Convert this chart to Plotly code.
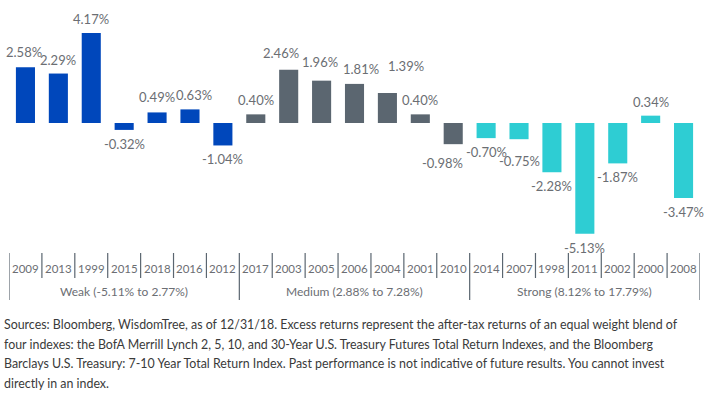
import plotly.graph_objects as go

years = ["2009", "2013", "1999", "2015", "2018", "2016", "2012",
         "2017", "2003", "2005", "2006", "2004", "2001", "2010",
         "2014", "2007", "1998", "2011", "2002", "2000", "2008"]
values = [2.58, 2.29, 4.17, -0.32, 0.49, 0.63, -1.04,
          0.40, 2.46, 1.96, 1.81, 1.39, 0.40, -0.98,
          -0.70, -0.75, -2.28, -5.13, -1.87, 0.34, -3.47]
groups = ["Weak"] * 7 + ["Medium"] * 7 + ["Strong"] * 7
group_labels = ["Weak (-5.11% to 2.77%)", "Medium (2.88% to 7.28%)", "Strong (8.12% to 17.79%)"]
group_names = ["Weak", "Medium", "Strong"]
footnote_lines = [
    "Sources: Bloomberg, WisdomTree, as of 12/31/18. Excess returns represent the after-tax returns of an equal weight blend of",
    "four indexes: the BofA Merrill Lynch 2, 5, 10, and 30-Year U.S. Treasury Futures Total Return Indexes, and the Bloomberg",
    "Barclays U.S. Treasury: 7-10 Year Total Return Index. Past performance is not indicative of future results. You cannot invest",
    "directly in an index.",
]

# styles
colors = {"Weak": "#0047BB", "Medium": "#5B6670", "Strong": "#2ECDD3"}
label_color = "#6B6E73"
axis_color = "#5B6670"
W, H = 708, 405
ML, MR = 9, 8
zero_px = 123
px_per_unit = 21.6
label_font = dict(family="Lato", size=13, color=label_color)

# label nudges (pixel) to mimic reference placement
nudges = {"2009": (-1, 1), "2018": (0, 1.5), "2016": (4, 0), "2003": (-8, 2.5),
          "2005": (-2, 5), "2006": (6, 1), "2004": (19, 13), "2010": (-11, -5),
          "2007": (0, -7.5)}

ytop = zero_px / px_per_unit
ybot = -(H - zero_px) / px_per_unit
n = len(years)
pos = list(range(n))


def py(pixel):
    return 1 - pixel / H


fig = go.Figure()
for g in group_names:
    xs = [i for i, gg in zip(pos, groups) if gg == g]
    vs = [v for v, gg in zip(values, groups) if gg == g]
    fig.add_trace(go.Bar(x=xs, y=vs, marker=dict(color=colors[g], line=dict(width=0)),
                         width=0.58, showlegend=False,
                         hovertext=[years[i] for i in xs], hoverinfo="text+y"))

ann = []
for i, (y, v) in enumerate(zip(years, values)):
    dx, dy = nudges.get(y, (0, 0))
    base = 14 if v >= 0 else -14
    ann.append(dict(x=i, y=v, xref="x", yref="y", text=f"{v:.2f}%", showarrow=False,
                    yanchor="middle", xanchor="center", xshift=dx, yshift=base + dy,
                    font=label_font))

for i, y in enumerate(years):
    ann.append(dict(x=i, y=py(268), xref="x", yref="paper", text=y, showarrow=False,
                    yanchor="middle", xanchor="center",
                    font=dict(family="Lato", size=11.5, color=label_color)))

for gname, glabel in zip(group_names, group_labels):
    idx = [i for i, gg in enumerate(groups) if gg == gname]
    ann.append(dict(x=(idx[0] + idx[-1]) / 2, y=py(291), xref="x", yref="paper", text=glabel,
                    showarrow=False, yanchor="middle", xanchor="center",
                    font=dict(family="Lato", size=12, color=label_color)))

shapes = []
for b in range(n + 1):
    is_group = b == 0 or b == n or groups[b] != groups[b - 1]
    shapes.append(dict(type="line", xref="x", yref="paper",
                       x0=b - 0.5, x1=b - 0.5, y0=py(253), y1=py(300 if is_group else 278),
                       line=dict(color=axis_color, width=1.2)))

pw = W - ML - MR
line_centers = [324, 344, 363.5, 383]
for txt, c in zip(footnote_lines, line_centers):
    ann.append(dict(x=(2 - ML) / pw, y=py(c), xref="paper", yref="paper", text=txt,
                    showarrow=False, xanchor="left", yanchor="middle", align="left",
                    font=dict(family="Lato", size=12.4, color="#3A3A3A")))

boundaries = [b - 0.5 for b in range(n + 1)]
fig.update_layout(
    width=W, height=H, margin=dict(l=ML, r=MR, t=0, b=0),
    paper_bgcolor="white", plot_bgcolor="white",
    barmode="overlay", annotations=ann, shapes=shapes,
    xaxis=dict(range=[-0.5, n - 0.5], visible=False, fixedrange=True),
    xaxis2=dict(overlaying="x", anchor="free", position=py(zero_px), side="bottom",
                range=[-0.5, n - 0.5], tickmode="array", tickvals=boundaries,
                showticklabels=False, showgrid=False, zeroline=False,
                ticks="outside", ticklen=4, tickwidth=1.2, tickcolor=axis_color,
                showline=True, linecolor=axis_color, linewidth=1.5, fixedrange=True),
    yaxis=dict(range=[ybot, ytop], visible=False, fixedrange=True),
)

fig.write_html("out.html")
